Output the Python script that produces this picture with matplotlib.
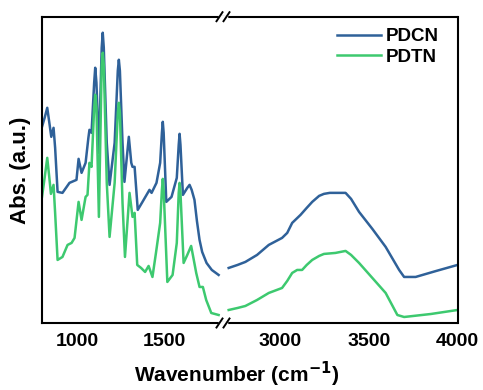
import matplotlib.pyplot as plt
from matplotlib.lines import Line2D

plt.rcParams['font.family'] = ['Liberation Sans', 'DejaVu Sans']
plt.rcParams['font.weight'] = 'bold'

# FTIR spectra (arbitrary absorbance units)
wn_low_pdcn = [800, 815, 830, 842, 853, 866, 875, 889, 917, 957, 997, 1009, 1026,
               1049, 1065, 1071, 1083, 1098, 1104, 1111, 1125, 1141, 1147, 1153,
               1170, 1186, 1215, 1233, 1239, 1245, 1260, 1271, 1296, 1310, 1317,
               1329, 1347, 1374, 1414, 1426, 1454, 1475, 1485, 1490, 1495, 1510,
               1540, 1570, 1581, 1586, 1591, 1605, 1630, 1643, 1655, 1671, 1685,
               1700, 1715, 1740, 1770, 1809]
abs_low_pdcn = [1.96, 2.05, 2.15, 2.00, 1.86, 1.95, 1.75, 1.31, 1.30, 1.40, 1.43,
                1.64, 1.50, 1.60, 1.85, 1.93, 1.90, 2.40, 2.55, 2.40, 1.70, 2.75,
                2.90, 2.75, 1.80, 1.38, 1.80, 2.52, 2.63, 2.52, 1.80, 1.41, 1.86,
                1.60, 1.56, 1.56, 1.13, 1.21, 1.33, 1.30, 1.40, 1.60, 1.90, 2.01,
                1.90, 1.21, 1.26, 1.45, 1.78, 1.89, 1.78, 1.28, 1.35, 1.38, 1.33,
                1.23, 1.02, 0.83, 0.71, 0.60, 0.53, 0.48]

wn_low_pdtn = [800, 815, 830, 842, 851, 866, 875, 889, 917, 946, 969, 986, 1009,
               1026, 1049, 1060, 1071, 1083, 1098, 1104, 1111, 1125, 1141, 1147,
               1153, 1170, 1186, 1215, 1233, 1239, 1245, 1260, 1274, 1300, 1317,
               1329, 1344, 1366, 1389, 1409, 1431, 1451, 1475, 1485, 1490, 1495,
               1516, 1546, 1570, 1581, 1586, 1591, 1609, 1630, 1652, 1665, 1681,
               1700, 1719, 1738, 1767, 1809]
abs_low_pdtn = [1.26, 1.45, 1.65, 1.45, 1.29, 1.38, 1.10, 0.63, 0.66, 0.78, 0.80,
                0.85, 1.21, 1.03, 1.26, 1.28, 1.60, 1.56, 2.15, 2.28, 2.15, 1.06,
                2.58, 2.70, 2.58, 1.40, 0.86, 1.40, 2.10, 2.20, 2.10, 1.20, 0.66,
                1.30, 1.06, 1.10, 0.58, 0.55, 0.51, 0.57, 0.46, 0.70, 1.00, 1.33,
                1.44, 1.33, 0.41, 0.48, 0.80, 1.30, 1.40, 1.30, 0.60, 0.68, 0.77,
                0.65, 0.50, 0.36, 0.36, 0.23, 0.10, 0.08]

wn_high_pdcn = [2710, 2760, 2804, 2870, 2936, 3011, 3040, 3068, 3115, 3150, 3181,
                3220, 3247, 3280, 3312, 3369, 3400, 3445, 3520, 3595, 3671, 3699,
                3764, 3880, 4000]
abs_high_pdcn = [0.55, 0.58, 0.61, 0.68, 0.78, 0.85, 0.90, 1.00, 1.08, 1.15,
                 1.21, 1.27, 1.29, 1.30, 1.30, 1.30, 1.24, 1.11, 0.94, 0.76,
                 0.53, 0.46, 0.46, 0.52, 0.58]

wn_high_pdtn = [2710, 2760, 2804, 2870, 2936, 3011, 3040, 3068, 3096, 3124, 3150,
                3181, 3220, 3247, 3312, 3369, 3400, 3445, 3520, 3595, 3661, 3699,
                3850, 4000]
abs_high_pdtn = [0.13, 0.15, 0.17, 0.23, 0.30, 0.35, 0.42, 0.50, 0.53, 0.53,
                 0.58, 0.63, 0.67, 0.69, 0.70, 0.72, 0.68, 0.60, 0.45, 0.30,
                 0.08, 0.06, 0.09, 0.13]

blue = '#2f6199'
green = '#3dc96f'

W, H = 483, 390
fig = plt.figure(figsize=(W / 100, H / 100), dpi=100)

x0, xb, x1 = 42, 223, 457.5
y0, y1 = 323, 16.7
bottom = 1 - y0 / H
height = (y0 - y1) / H
ax1 = fig.add_axes([x0 / W, bottom, (xb - x0) / W, height])
ax2 = fig.add_axes([xb / W, bottom, (x1 - xb) / W, height])

ax1.plot(wn_low_pdcn, abs_low_pdcn, color=blue, lw=1.8)
ax1.plot(wn_low_pdtn, abs_low_pdtn, color=green, lw=1.8)
ax2.plot(wn_high_pdcn, abs_high_pdcn, color=blue, lw=1.8, label='PDCN')
ax2.plot(wn_high_pdtn, abs_high_pdtn, color=green, lw=1.8, label='PDTN')

ax1.set_xlim(800, 1834)
ax2.set_xlim(2678, 4000)
for ax in (ax1, ax2):
    ax.set_ylim(0, 3.06)
    ax.set_yticks([])
    ax.tick_params(axis='x', length=0, pad=7, labelsize=14)
    for s in ax.spines.values():
        s.set_linewidth(1.5)
ax1.set_xticks([1000, 1500])
ax2.set_xticks([3000, 3500, 4000])
ax1.spines['right'].set_visible(False)
ax2.spines['left'].set_visible(False)

ax1.set_ylabel('Abs. (a.u.)', fontsize=16, fontweight='bold', labelpad=8)
fig.text(0.49, 1 - 382 / H, 'Wavenumber (cm$^{\\mathbf{-1}}$)', ha='center',
         va='baseline', fontsize=15, fontweight='bold')

ax2.legend(loc='upper right', frameon=False, fontsize=13.5, handlelength=2.3,
           handletextpad=0.3, labelspacing=0.2, borderaxespad=0.2,
           bbox_to_anchor=(0.97, 1.0))

# break marks on the top and bottom spines
for yy in (y1, y0):
    fig.add_artist(Line2D([(xb - 3) / W, (xb + 3) / W],
                          [1 - yy / H, 1 - yy / H], color='white', lw=2.5))
    for dx in (-3.5, 3.5):
        xc = xb + dx
        fig.add_artist(Line2D([(xc - 3) / W, (xc + 3) / W],
                              [1 - (yy + 4.5) / H, 1 - (yy - 4.5) / H],
                              color='black', lw=1.4))

fig.savefig('out.png', dpi=100)
